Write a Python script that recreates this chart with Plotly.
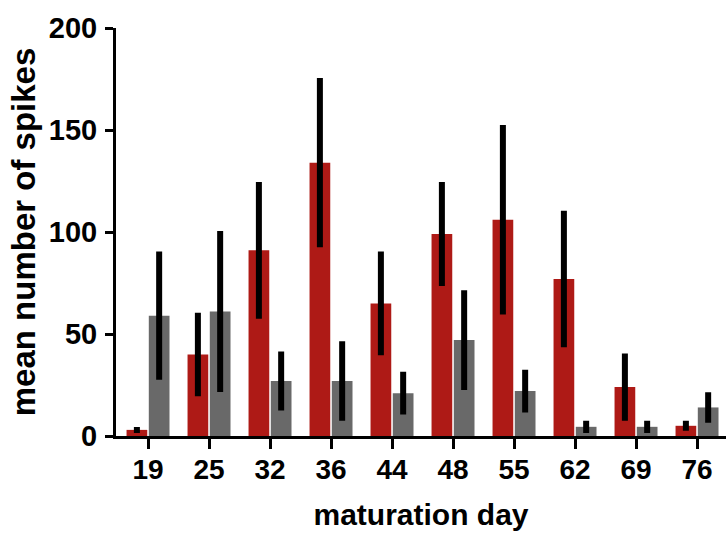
import plotly.graph_objects as go

days = ["19", "25", "32", "36", "44", "48", "55", "62", "69", "76"]
red_mean = [3, 40, 91, 134, 65, 99, 106, 77, 24, 5]
red_err = [0, 19, 32, 40, 24, 24, 45, 32, 15, 1]
grey_mean = [59, 61, 27, 27, 21, 47, 22, 4.5, 4.5, 14]
grey_err = [30, 38, 13, 18, 9, 23, 9, 1.5, 1.5, 6]

font_family = "Liberation Sans, Arial, sans-serif"

fig = go.Figure()
fig.add_trace(go.Bar(
    x=days, y=red_mean, name="red",
    marker=dict(color="#AE1A16", line=dict(width=0)),
    error_y=dict(type="data", array=red_err, visible=True,
                 color="black", thickness=6, width=3),
))
fig.add_trace(go.Bar(
    x=days, y=grey_mean, name="grey",
    marker=dict(color="#696969", line=dict(width=0)),
    error_y=dict(type="data", array=grey_err, visible=True,
                 color="black", thickness=6, width=3),
))

fig.update_layout(
    width=726, height=545,
    margin=dict(l=116, r=0, t=28, b=109, autoexpand=False),
    paper_bgcolor="white", plot_bgcolor="white",
    barmode="group", bargap=0.27, bargroupgap=0.07,
    showlegend=False,
    font=dict(family=font_family, color="black"),
)
fig.update_xaxes(
    type="category", range=[-0.525, 9.475],
    showline=True, linecolor="black", linewidth=3,
    ticks="outside", ticklen=10, tickwidth=3, tickcolor="black",
    ticklabelstandoff=-4,
    tickfont=dict(size=28, family=font_family, weight="bold"),
    title=dict(text="<b>maturation day</b>", font=dict(size=30, family=font_family),
               standoff=21),
    showgrid=False, zeroline=False, automargin=False,
)
fig.update_yaxes(
    range=[0, 200], tickvals=[0, 50, 100, 150, 200],
    showline=True, linecolor="black", linewidth=3,
    ticks="outside", ticklen=8, tickwidth=3, tickcolor="black",
    ticklabelstandoff=2,
    tickfont=dict(size=29, family=font_family, weight="bold"),
    title=dict(text="<b>mean number of spikes</b>", font=dict(size=33, family=font_family),
               standoff=4),
    showgrid=False, zeroline=False, automargin=False,
)

fig.write_html("out.html", config={"displayModeBar": False},
               post_script="document.body.style.margin='0px';")
